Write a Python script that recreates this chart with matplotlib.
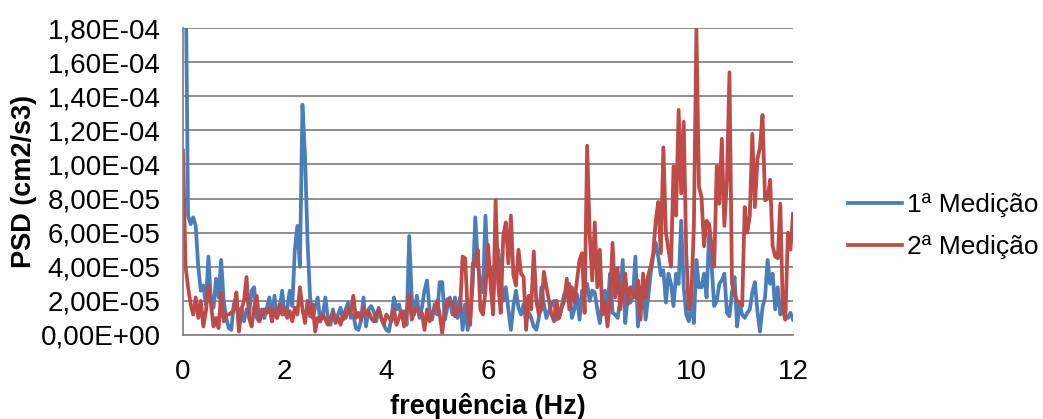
import matplotlib.pyplot as plt
import numpy as np
from matplotlib.ticker import FuncFormatter, MultipleLocator

plt.rcParams['font.family'] = ['Liberation Sans', 'DejaVu Sans']

# frequência (Hz), passo 0.05
freq = np.round(np.arange(0, 12.0001, 0.05), 2)

# PSD em unidades de 1e-5 cm2/s3
med1 = [60, 22, 7.0, 6.5, 6.9, 6.4, 4.0, 2.6, 2.9, 1.8,
        4.6, 2.0, 1.6, 3.3, 2.2, 4.4, 2.0, 1.0, 0.4, 0.3,
        1.8, 2.2, 0.5, 1.6, 0.8, 1.5, 1.2, 2.6, 2.8, 1.0,
        0.8, 1.5, 1.0, 1.6, 2.2, 0.8, 2.3, 1.0, 1.5, 2.6,
        1.2, 1.5, 2.6, 1.7, 5.0, 6.4, 4.0, 13.5, 10.5, 5.5,
        2.2, 1.0, 1.6, 2.2, 0.8, 1.2, 2.2, 1.0, 0.6, 1.5,
        0.8, 1.2, 1.6, 0.9, 1.5, 1.9, 1.0, 1.2, 0.4, 0.3,
        0.8, 2.2, 0.5, 1.5, 1.7, 1.4, 0.8, 1.6, 1.0, 0.6,
        0.3, 0.2, 1.0, 2.2, 1.5, 1.8, 1.0, 1.4, 0.6, 5.8,
        2.2, 1.2, 2.3, 1.0, 1.6, 2.6, 3.2, 1.5, 0.9, 1.8,
        1.2, 3.1, 3.1, 0.9, 1.6, 2.2, 1.2, 2.2, 1.0, 2.2,
        0.3, 1.8, 0.3, 1.0, 3.0, 6.9, 4.2, 3.0, 2.5, 7.0,
        3.5, 4.0, 2.1, 4.1, 5.0, 3.3, 2.0, 2.8, 1.5, 0.3,
        1.7, 2.6, 1.6, 1.2, 1.8, 0.9, 1.3, 1.0, 0.5, 0.3,
        1.0, 2.8, 1.8, 1.0, 1.4, 1.8, 2.0, 0.9, 1.0, 1.7,
        2.4, 2.6, 3.0, 1.0, 1.5, 2.4, 0.9, 2.6, 2.4, 3.0,
        2.0, 2.6, 2.5, 1.5, 0.7, 2.0, 2.6, 1.5, 3.6, 1.3,
        1.2, 1.0, 2.0, 4.4, 0.7, 2.3, 1.9, 2.2, 4.6, 0.5,
        2.6, 3.0, 0.9, 2.2, 3.6, 4.6, 5.4, 4.6, 3.5, 3.8,
        1.9, 3.6, 3.0, 1.7, 3.6, 3.0, 6.7, 2.8, 1.2, 0.8,
        1.9, 0.7, 4.4, 2.8, 2.8, 3.6, 2.2, 6.0, 4.0, 1.7,
        2.0, 3.0, 3.2, 3.6, 1.3, 1.1, 2.5, 3.4, 0.5, 1.8,
        1.2, 1.0, 1.3, 1.5, 2.5, 3.1, 1.4, 0.2, 1.6, 2.2,
        4.4, 3.0, 3.6, 1.5, 2.8, 1.2, 1.5, 1.1, 1.0, 1.3,
        0.9]

med2 = [10.8, 4.0, 2.8, 1.8, 1.2, 2.2, 1.0, 2.0, 0.5, 1.4,
        2.9, 1.8, 0.5, 1.0, 0.4, 2.5, 0.8, 1.2, 1.2, 1.3,
        1.5, 2.5, 0.2, 1.5, 2.0, 3.4, 1.0, 0.5, 1.6, 2.3,
        0.8, 1.2, 1.5, 1.3, 1.6, 0.8, 1.5, 1.0, 1.8, 1.2,
        1.6, 1.0, 1.4, 0.8, 1.6, 1.2, 2.8, 1.5, 0.7, 2.0,
        1.1, 1.8, 0.2, 1.0, 0.8, 1.2, 0.9, 0.6, 1.0, 1.3,
        0.7, 1.0, 0.6, 1.3, 1.0, 1.5, 1.3, 2.3, 1.0, 1.3,
        0.9, 1.6, 1.2, 1.4, 1.0, 0.8, 1.2, 1.5, 1.0, 0.6,
        1.2, 1.0, 0.8, 1.5, 0.6, 1.0, 1.4, 0.5, 1.3, 2.4,
        0.9, 1.4, 1.6, 1.2, 1.3, 0.3, 1.5, 0.8, 1.2, 1.6,
        2.0, 1.2, 0.1, 1.5, 2.1, 1.8, 1.9, 1.1, 1.5, 1.4,
        4.6, 4.5, 1.4, 0.6, 4.2, 4.1, 5.0, 1.5, 1.2, 2.6,
        5.3, 3.0, 1.2, 7.9, 3.0, 1.3, 5.8, 6.6, 4.2, 7.0,
        3.5, 2.9, 5.0, 3.6, 3.4, 0.3, 2.3, 1.5, 4.9, 2.0,
        1.2, 1.5, 3.7, 2.8, 2.0, 1.2, 0.8, 2.0, 1.0, 1.6,
        2.0, 3.3, 1.5, 2.8, 1.9, 3.2, 4.4, 4.8, 1.3, 11.1,
        6.0, 3.2, 6.6, 2.8, 5.0, 1.2, 1.9, 0.5, 2.0, 5.4,
        2.2, 3.9, 1.5, 2.5, 3.6, 1.8, 2.8, 2.4, 2.2, 3.2,
        0.9, 3.6, 2.2, 3.5, 4.0, 4.8, 6.7, 7.8, 4.8, 11.0,
        6.0, 5.0, 4.0, 9.9, 7.0, 13.2, 8.3, 12.5, 4.8, 1.5,
        2.2, 6.4, 17.9, 8.7, 8.1, 5.2, 6.7, 6.5, 5.2, 4.0,
        9.9, 7.7, 11.5, 6.4, 9.0, 15.4, 3.0, 2.4, 2.0, 1.9,
        1.7, 7.5, 6.0, 7.0, 11.8, 7.5, 10.3, 11.0, 12.9, 7.9,
        8.0, 9.1, 5.2, 4.6, 4.5, 7.7, 1.5, 0.9, 6.0, 5.0,
        7.1]

series = ['1ª Medição', '2ª Medição']
colors = ['#4A7EBB', '#BE4B48']

fig = plt.figure(figsize=(10.43, 4.19), dpi=100)
ax = fig.add_axes([183/1043, 1 - 335/419, 610/1043, 307/419])

for vals, name, c in zip([med1, med2], series, colors):
    ax.plot(freq, np.array(vals) * 1e-5, color=c, lw=2.7, label=name,
            solid_joinstyle='round')

ax.set_xlim(0, 12)
ax.set_ylim(0, 1.8e-4)
ax.xaxis.set_major_locator(MultipleLocator(2))
ax.yaxis.set_major_locator(MultipleLocator(2e-5))


def sci_comma(v, pos):
    s = '%.2E' % v
    return s.replace('.', ',')


ax.yaxis.set_major_formatter(FuncFormatter(sci_comma))
ax.grid(axis='y', color='#868686', lw=1.3)
ax.set_axisbelow(True)
for s in ['top', 'right']:
    ax.spines[s].set_visible(False)
for s in ['left', 'bottom']:
    ax.spines[s].set_color('#868686')
    ax.spines[s].set_linewidth(1.3)
ax.tick_params(length=0, labelsize=20)
ax.tick_params(axis='y', pad=16)
ax.tick_params(axis='x', pad=17)

ax.set_xlabel('frequência (Hz)', fontsize=19.5, fontweight='bold', labelpad=6)
ax.set_ylabel('PSD (cm2/s3)', fontsize=19.5, fontweight='bold', labelpad=3)

ax.legend(loc='center left', bbox_to_anchor=(1.06, 0.355), frameon=False,
          fontsize=19, handlelength=2.05, handletextpad=0.19, labelspacing=0.7,
          borderpad=0.2)

fig.savefig('out.png', dpi=100)
